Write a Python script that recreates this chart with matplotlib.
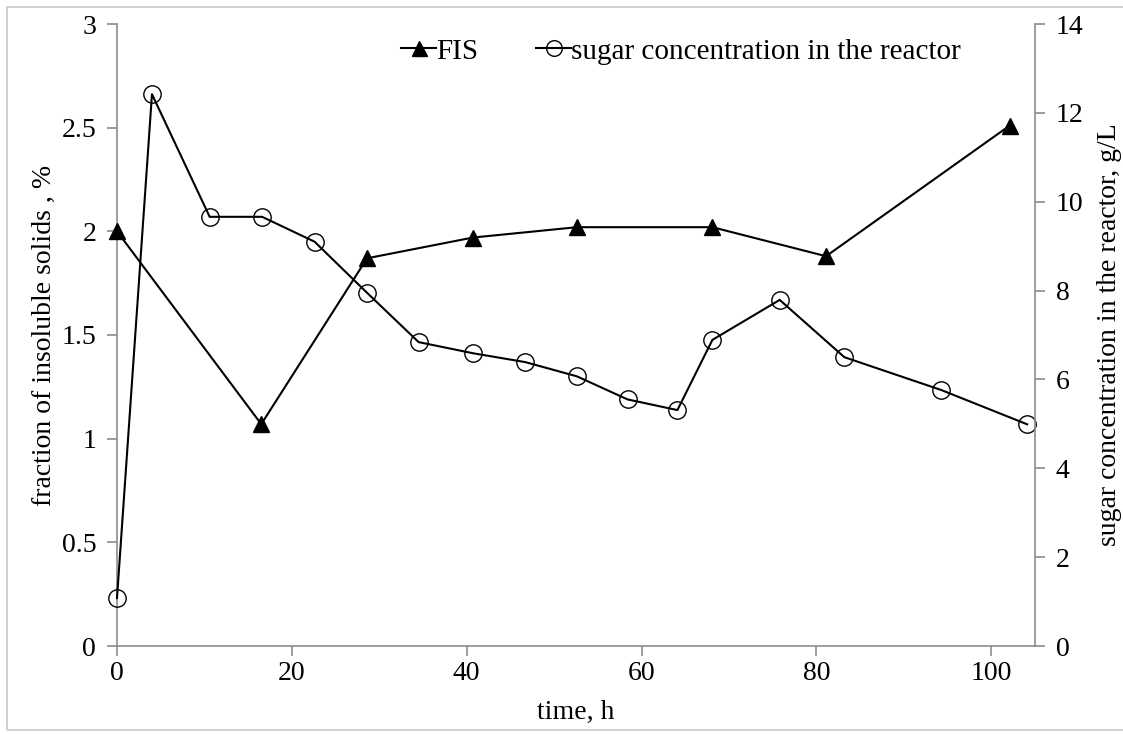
import matplotlib
matplotlib.use("Agg")
import matplotlib.pyplot as plt
from matplotlib.patches import Rectangle

# data
fis_time = [0, 16.5, 28.6, 40.7, 52.6, 68.1, 81.1, 102.1]
fis = [2.00, 1.07, 1.87, 1.97, 2.02, 2.02, 1.88, 2.51]

sugar_time = [0, 4.0, 10.6, 16.6, 22.6, 28.6, 34.5, 40.7, 46.7, 52.6, 58.4,
              64.1, 68.1, 75.8, 83.2, 94.3, 104.1]
sugar = [1.08, 12.42, 9.66, 9.66, 9.10, 7.95, 6.84, 6.59, 6.39, 6.07, 5.55,
         5.31, 6.89, 7.79, 6.50, 5.76, 4.99]

left_ticks = [0, 0.5, 1, 1.5, 2, 2.5, 3]
left_labels = ["0", "0.5", "1", "1.5", "2", "2.5", "3"]
right_ticks = [0, 2, 4, 6, 8, 10, 12, 14]
x_ticks = [0, 20, 40, 60, 80, 100]

plt.rcParams["font.family"] = ["Liberation Serif", "DejaVu Serif"]
fs = 20
grey = "#8c8c8c"

fig = plt.figure(figsize=(11.23, 7.34), dpi=100)
ax = fig.add_axes([117 / 1123, 88 / 734, (1035 - 117) / 1123, (646 - 24) / 734])
ax2 = ax.twinx()

l1, = ax.plot(fis_time, fis, color="black", lw=1.5, marker="^", ms=12,
              mfc="black", mec="black", label="FIS", clip_on=False, zorder=3)
l2, = ax2.plot(sugar_time, sugar, color="black", lw=1.5, marker="o", ms=12.5,
               mfc="none", mec="black", mew=1.0,
               label="sugar concentration in the reactor", clip_on=False)

ax.set_xlim(0, 105)
ax.set_ylim(0, 3)
ax2.set_ylim(0, 14)
ax.set_xticks(x_ticks)
ax.set_yticks(left_ticks)
ax.set_yticklabels(left_labels)
ax2.set_yticks(right_ticks)

for a in (ax, ax2):
    a.spines["top"].set_visible(False)
    for s in ("left", "right", "bottom"):
        a.spines[s].set_color(grey)
        a.spines[s].set_linewidth(1.2)
    a.tick_params(axis="y", direction="out", length=7, width=1.2,
                  color=grey, labelsize=fs, labelcolor="black", pad=8)
ax.tick_params(axis="x", direction="out", length=7, width=1.2,
               color=grey, labelsize=fs, labelcolor="black", pad=4)
ax.spines["right"].set_visible(False)
ax2.spines["left"].set_visible(False)
ax2.spines["bottom"].set_visible(False)

ax.set_xlabel("time, h", fontsize=fs, labelpad=10)
ax.set_ylabel("fraction of insoluble solids , %", fontsize=fs, labelpad=3)
ax2.set_ylabel("sugar concentration in the reactor, g/L", fontsize=fs, labelpad=10)

fig.legend([l1, l2], [l1.get_label(), l2.get_label()], ncol=2, frameon=False,
           loc="center", bbox_to_anchor=(0.6065, 0.93), fontsize=21,
           handlelength=1.2, handletextpad=0.0, columnspacing=2.0,
           markerscale=0.9)

# light outer frame of the chart area
fig.patches.append(Rectangle((7 / 1123, 4 / 734), 1.0, 723 / 734,
                             transform=fig.transFigure, fill=False,
                             edgecolor="#c8c8c8", lw=1.2))

fig.savefig("out.png", dpi=100)
